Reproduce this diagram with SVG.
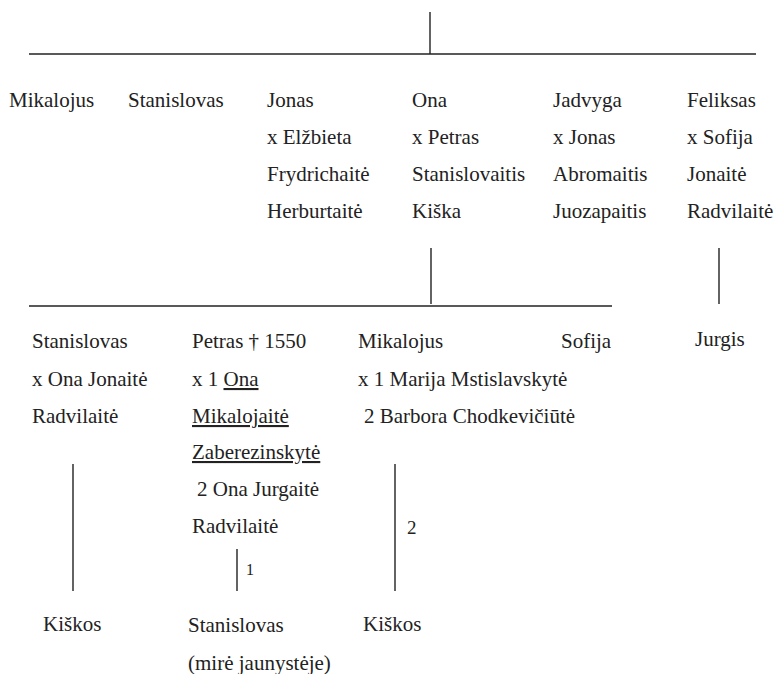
<svg xmlns="http://www.w3.org/2000/svg" width="779" height="674" viewBox="0 0 779 674">
<style>
text{font-family:'Liberation Serif','Times New Roman',serif;font-size:21px;fill:#222}
.sm{font-size:16px}
.md{font-size:19px}
.u{text-decoration:underline}
line{stroke:#222;stroke-width:1.4}
</style>
<rect width="779" height="674" fill="#fff"/>
<g id="connectors">
<line x1="430" y1="12" x2="430" y2="54"/>
<line x1="29" y1="54" x2="756" y2="54"/>
<line x1="431" y1="248" x2="431" y2="304"/>
<line x1="29" y1="306" x2="612" y2="306"/>
<line x1="719" y1="248" x2="719" y2="304"/>
<line x1="73" y1="464" x2="73" y2="591"/>
<line x1="237" y1="549" x2="237" y2="591"/>
<line x1="395" y1="464" x2="395" y2="591"/>
<text class="sm" x="246" y="575">1</text>
<text class="md" x="407" y="534">2</text>
</g>
<g id="n-mikalojus"><text x="9" y="107">Mikalojus</text></g>
<g id="n-stanislovas"><text x="128" y="107">Stanislovas</text></g>
<g id="n-jonas">
<text x="267" y="107">Jonas</text>
<text x="267" y="144">x Elžbieta</text>
<text x="267" y="181">Frydrichaitė</text>
<text x="267" y="218">Herburtaitė</text>
</g>
<g id="n-ona">
<text x="412" y="107">Ona</text>
<text x="412" y="144">x Petras</text>
<text x="412" y="181">Stanislovaitis</text>
<text x="412" y="218">Kiška</text>
</g>
<g id="n-jadvyga">
<text x="553" y="107">Jadvyga</text>
<text x="553" y="144">x Jonas</text>
<text x="553" y="181">Abromaitis</text>
<text x="553" y="218">Juozapaitis</text>
</g>
<g id="n-feliksas">
<text x="687" y="107">Feliksas</text>
<text x="687" y="144">x Sofija</text>
<text x="687" y="181">Jonaitė</text>
<text x="687" y="218">Radvilaitė</text>
</g>
<g id="n-stanislovas2">
<text x="32" y="348">Stanislovas</text>
<text x="32" y="386">x Ona Jonaitė</text>
<text x="32" y="423">Radvilaitė</text>
</g>
<g id="n-petras">
<text x="192" y="348">Petras † 1550</text>
<text x="192" y="386">x 1 <tspan class="u">Ona</tspan></text>
<text x="192" y="423" class="u">Mikalojaitė</text>
<text x="192" y="459" class="u">Zaberezinskytė</text>
<text x="197" y="496">2 Ona Jurgaitė</text>
<text x="192" y="533">Radvilaitė</text>
</g>
<g id="n-mikalojus2">
<text x="358" y="348">Mikalojus</text>
<text x="358" y="386">x 1 Marija Mstislavskytė</text>
<text x="364" y="423">2 Barbora Chodkevičiūtė</text>
</g>
<g id="n-sofija"><text x="561" y="348">Sofija</text></g>
<g id="n-jurgis"><text x="695" y="346">Jurgis</text></g>
<g id="n-kiskos1"><text x="43" y="631">Kiškos</text></g>
<g id="n-stanislovas3">
<text x="188" y="632">Stanislovas</text>
<text x="188" y="670">(mirė jaunystėje)</text>
</g>
<g id="n-kiskos2"><text x="363" y="631">Kiškos</text></g>
</svg>
